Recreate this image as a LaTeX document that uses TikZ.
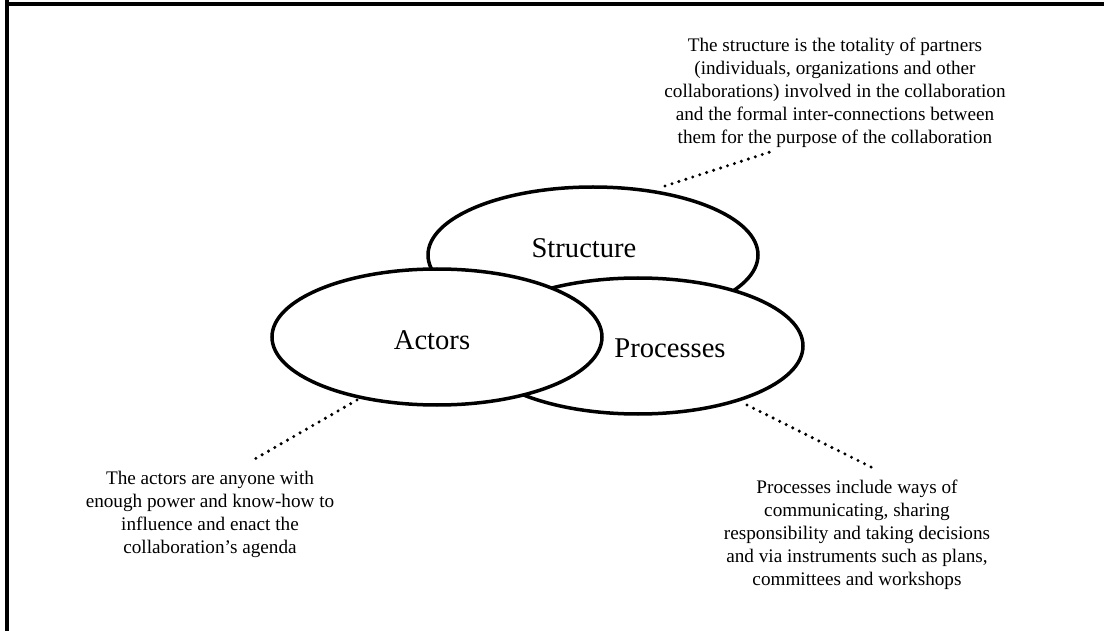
\documentclass[tikz,border=0pt]{standalone}
\usepackage{fontspec}
\setmainfont{Liberation Serif}
\usetikzlibrary{shapes.geometric}
\begin{document}
\begin{tikzpicture}[x=1pt,y=-1pt,
  oval/.style={ellipse, draw, line width=3.5pt, fill=white, minimum width=330pt, minimum height=136pt, inner sep=0pt},
  biglabel/.style={font=\fontsize{28.6}{34}\selectfont, inner sep=0pt},
  note/.style={font=\fontsize{19.2}{23}\selectfont, align=center, inner sep=0pt},
  dotline/.style={line width=3.4pt, line cap=round, dash pattern=on 0pt off 7.3pt},
  frameline/.style={line width=4pt}]
\useasboundingbox (0,0) rectangle (1104,631);
% frame
\draw[frameline] (7,0) -- (7,631);
\draw[frameline] (5,4) -- (1104,4);
% ellipses
\node[oval] (S) at (593,255) {};
\node[oval] (P) at (638,346) {};
\node[oval] (A) at (437,337) {};
\node[biglabel] (Slab) at (584,248) {Structure};
\node[biglabel] (Alab) at (432,340) {Actors};
\node[biglabel] (Plab) at (670,348) {Processes};
% notes
\node[note] (Snote) at (835,93) {The structure is the totality of partners\\(individuals, organizations and other\\collaborations) involved in the collaboration\\and the formal inter-connections between\\them for the purpose of the collaboration};
\node[note] (Anote) at (210,514) {The actors are anyone with\\enough power and know-how to\\influence and enact the\\collaboration's agenda};
\node[note] (Pnote) at (857,534.5) {Processes include ways of\\communicating, sharing\\responsibility and taking decisions\\and via instruments such as plans,\\committees and workshops};
% connectors
\coordinate (s1) at (665,186);
\coordinate (s2) at (770,152);
\coordinate (a1) at (357,400);
\coordinate (a2) at (253,460);
\coordinate (p1) at (747,405);
\coordinate (p2) at (873,468);
\draw[dotline] (s1) -- (s2);
\draw[dotline] (a1) -- (a2);
\draw[dotline] (p1) -- (p2);
\end{tikzpicture}
\end{document}
